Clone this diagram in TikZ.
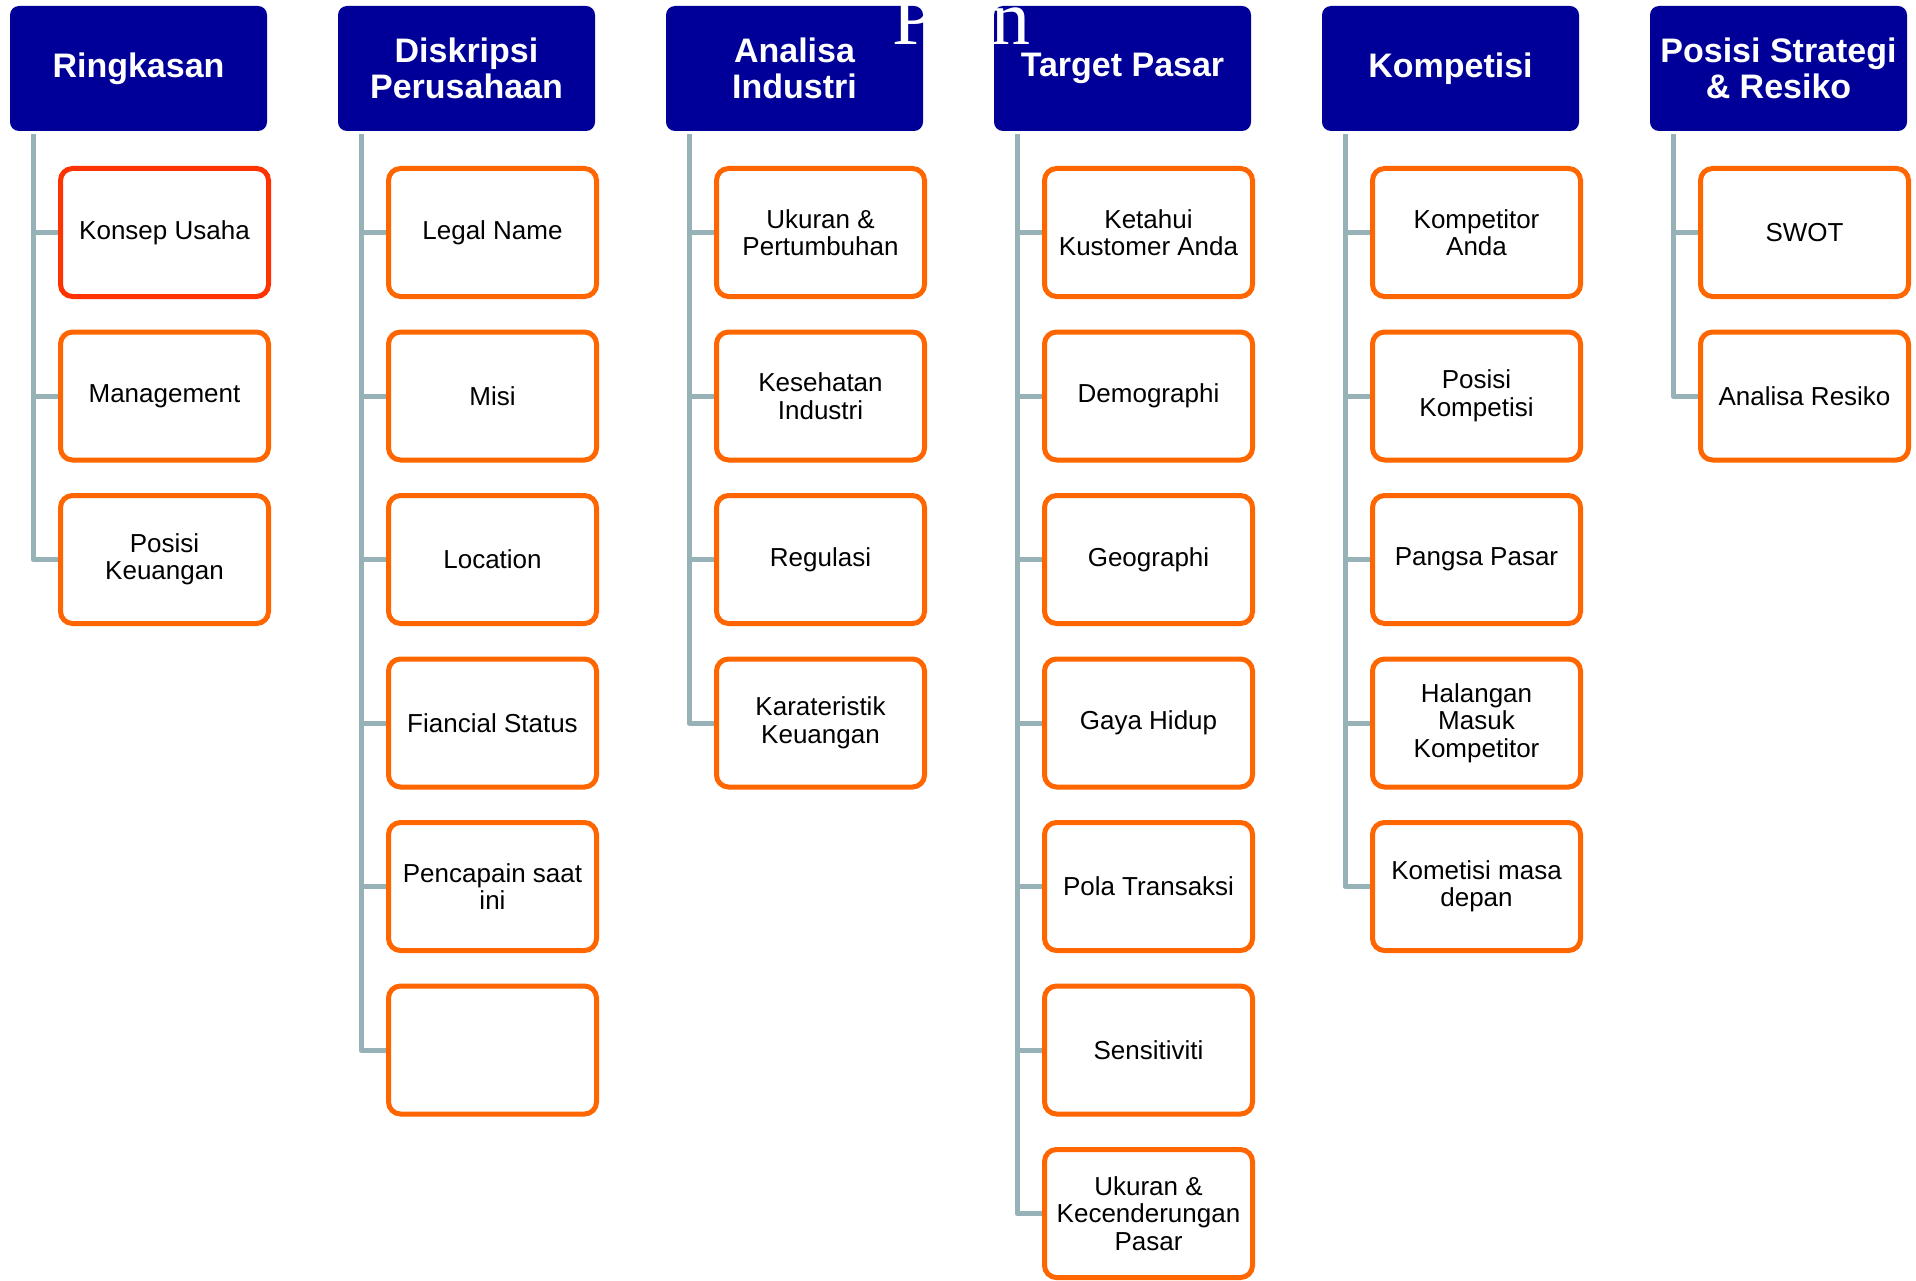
\documentclass[tikz,border=0pt]{standalone}
\usepackage{fontspec}
\setmainfont{Liberation Sans}
\newfontfamily\serifttl{Liberation Serif}
\definecolor{hdr}{RGB}{0,0,153}
\definecolor{org}{RGB}{255,102,0}
\definecolor{redorg}{RGB}{255,51,0}
\definecolor{conn}{RGB}{150,178,182}
\begin{document}
\begin{tikzpicture}[x=1pt,y=-1pt,
 hdrbox/.style={rectangle, rounded corners=9pt, fill=hdr, text=white, font=\bfseries\fontsize{34}{35.4}\selectfont, align=center, minimum width=257pt, minimum height=125pt, inner sep=0pt},
 item/.style={rectangle, rounded corners=12pt, draw=org, line width=5pt, fill=white, font=\fontsize{26}{27.5}\selectfont, align=center, minimum width=208pt, minimum height=128pt, inner sep=0pt},
 link/.style={draw=conn, line width=5pt, line join=round}]
\useasboundingbox (0,0) rectangle (1916,1281);
\fill[white] (0,0) rectangle (1916,1281);
% headers
\node[hdrbox] (h1) at (138.5,68.5) {Ringkasan};
\node[hdrbox] (h2) at (466.5,68.5) {Diskripsi\\Perusahaan};
\node[hdrbox] (h3) at (794.5,68.5) {Analisa\\Industri};
\node[hdrbox] (h4) at (1122.5,68.5) {Target Pasar};
\node[hdrbox] (h5) at (1450.5,68.5) {Kompetisi};
\node[hdrbox] (h6) at (1778.5,68.5) {Posisi Strategi\\\& Resiko};
% title fragment
\node[anchor=base west, inner sep=0pt, text=white, font=\serifttl\fontsize{78}{80}\selectfont] (ttl) at (892,45) {Plan};
% column 1
\node[item, draw=redorg] (c1a) at (164.5,232.5) {Konsep Usaha};
\node[item] (c1b) at (164.5,396) {Management};
\node[item] (c1c) at (164.5,559.5) {Posisi\\Keuangan};
% column 2
\node[item] (c2a) at (492.5,232.5) {Legal Name};
\node[item] (c2b) at (492.5,396) {Misi};
\node[item] (c2c) at (492.5,559.5) {Location};
\node[item] (c2d) at (492.5,723) {Fiancial Status};
\node[item] (c2e) at (492.5,886.5) {Pencapain saat\\ini};
\node[item] (c2f) at (492.5,1050) {};
% column 3
\node[item] (c3a) at (820.5,232.5) {Ukuran \&\\Pertumbuhan};
\node[item] (c3b) at (820.5,396) {Kesehatan\\Industri};
\node[item] (c3c) at (820.5,559.5) {Regulasi};
\node[item] (c3d) at (820.5,723) {Karateristik\\Keuangan};
% column 4
\node[item] (c4a) at (1148.5,232.5) {Ketahui\\Kustomer Anda};
\node[item] (c4b) at (1148.5,396) {Demographi};
\node[item] (c4c) at (1148.5,559.5) {Geographi};
\node[item] (c4d) at (1148.5,723) {Gaya Hidup};
\node[item] (c4e) at (1148.5,886.5) {Pola Transaksi};
\node[item] (c4f) at (1148.5,1050) {Sensitiviti};
\node[item] (c4g) at (1148.5,1213.5) {Ukuran \&\\Kecenderungan\\Pasar};
% column 5
\node[item] (c5a) at (1476.5,232.5) {Kompetitor\\Anda};
\node[item] (c5b) at (1476.5,396) {Posisi\\Kompetisi};
\node[item] (c5c) at (1476.5,559.5) {Pangsa Pasar};
\node[item] (c5d) at (1476.5,723) {Halangan\\Masuk\\Kompetitor};
\node[item] (c5e) at (1476.5,886.5) {Kometisi masa\\depan};
% column 6
\node[item] (c6a) at (1804.5,232.5) {SWOT};
\node[item] (c6b) at (1804.5,396) {Analisa Resiko};
% trunks
\coordinate (t1) at ([shift={(-105.5,3)}]h1.south);
\coordinate (t2) at ([shift={(-105.5,3)}]h2.south);
\coordinate (t3) at ([shift={(-105.5,3)}]h3.south);
\coordinate (t4) at ([shift={(-105.5,3)}]h4.south);
\coordinate (t5) at ([shift={(-105.5,3)}]h5.south);
\coordinate (t6) at ([shift={(-105.5,3)}]h6.south);
\draw[link] (t1) |- (c1c.west);
\draw[link] (t2) |- (c2f.west);
\draw[link] (t3) |- (c3d.west);
\draw[link] (t4) |- (c4g.west);
\draw[link] (t5) |- (c5e.west);
\draw[link] (t6) |- (c6b.west);
% ticks
\foreach \n/\t in {c1a/t1,c1b/t1,
  c2a/t2,c2b/t2,c2c/t2,c2d/t2,c2e/t2,
  c3a/t3,c3b/t3,c3c/t3,
  c4a/t4,c4b/t4,c4c/t4,c4d/t4,c4e/t4,c4f/t4,
  c5a/t5,c5b/t5,c5c/t5,c5d/t5,
  c6a/t6}
  \draw[link] (\n.west) -- (\n.west -| \t);
\end{tikzpicture}
\end{document}
